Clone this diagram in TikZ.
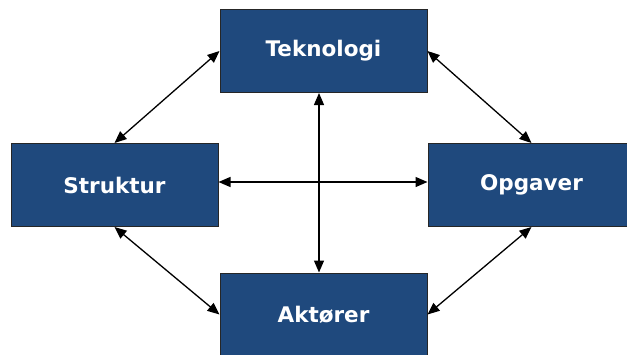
\documentclass[tikz,border=0pt]{standalone}
\usepackage{fontspec}
\setmainfont{DejaVu Sans}
\usetikzlibrary{arrows.meta}
\definecolor{boxblue}{RGB}{31,73,125}
\begin{document}
\begin{tikzpicture}[x=1pt,y=-1pt,
  box/.style={draw=black!85, line width=1pt, fill=boxblue, text=white,
    minimum width=207pt, minimum height=83pt, inner sep=0pt,
    font=\fontsize{21.5}{25}\selectfont\bfseries},
  link/.style={line width=1.3pt, {Triangle[length=12pt,width=10pt]}-{Triangle[length=12pt,width=10pt]}}]
\useasboundingbox (0,0) rectangle (627,354);
\fill[white] (0,0) rectangle (627,354);
\node[box] (tek) at (323.5,51) {Teknologi};
\node[box] (str) at (114.5,185) {Struktur};
\node[box] (opg) at (531.5,185) {Opgaver};
\node[box] (akt) at (323.5,314.5) {Aktører};
\draw[link] (tek.west) -- (str.north);
\draw[link] (tek.east) -- (opg.north);
\draw[link] (str.south) -- (akt.west);
\draw[link] (akt.east) -- (opg.south);
\draw[link] ([xshift=-4.5pt]tek.south) -- ([xshift=-4.5pt]akt.north);
\draw[link] ([yshift=3pt]str.east) -- ([yshift=3pt]opg.west);
\end{tikzpicture}
\end{document}
